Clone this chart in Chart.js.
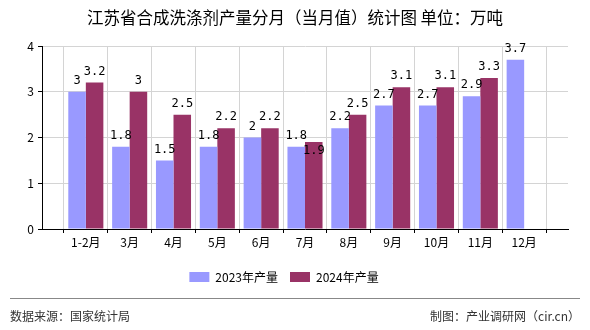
<!DOCTYPE html>
<html>
<head>
<meta charset="utf-8">
<script src="https://cdn.jsdelivr.net/npm/chart.js@4/dist/chart.umd.min.js"></script>
<style>
  html, body { margin: 0; padding: 0; background: #fff; }
  #wrap { width: 590px; height: 330px; position: relative; }
</style>
</head>
<body>
<div id="wrap"><canvas id="chart"></canvas></div>
<script>
const months = ["1-2月", "3月", "4月", "5月", "6月", "7月", "8月", "9月", "10月", "11月", "12月"];
const output2023 = [3, 1.8, 1.5, 1.8, 2, 1.8, 2.2, 2.7, 2.7, 2.9, 3.7];
const output2024 = [3.2, 3, 2.5, 2.2, 2.2, 1.9, 2.5, 3.1, 3.1, 3.3, null];
const yTicks = [0, 1, 2, 3, 4];

const cnFont = '"Noto Sans CJK SC", "DejaVu Sans", sans-serif';

// пустые места по краям оси, как в оригинале
const axisLabels = ["", ...months, ""];
const pad = arr => [null, ...arr, null];

// подписи значений над столбиками
const valueLabels = {
  id: "valueLabels",
  afterDatasetsDraw(chart) {
    const ctx = chart.ctx;
    ctx.save();
    ctx.font = '12px "DejaVu Sans Mono", monospace';
    ctx.fillStyle = "#000";
    ctx.textAlign = "center";
    ctx.textBaseline = "bottom";
    chart.data.datasets.forEach((ds, di) => {
      const meta = chart.getDatasetMeta(di);
      meta.data.forEach((bar, i) => {
        const v = ds.data[i];
        if (v === null || v === undefined) return;
        let y = bar.y - 5;
        // если соседняя подпись мешает — пишем внутри столбика
        if (di === 1) {
          const other = chart.data.datasets[0].data[i];
          if (other !== null && Math.abs(v - other) < 0.15) y = bar.y + 15;
        }
        ctx.fillText(String(v), bar.x, y);
      });
    });
    ctx.restore();
  }
};

// заголовок, линия и подписи внизу
const decor = {
  id: "decor",
  afterDraw(chart) {
    const ctx = chart.ctx;
    ctx.save();
    ctx.font = "16.5px " + cnFont;
    ctx.fillStyle = "#000";
    ctx.textAlign = "center";
    ctx.textBaseline = "middle";
    ctx.fillText("江苏省合成洗涤剂产量分月（当月值）统计图 单位：万吨", 295, 18);

    ctx.strokeStyle = "#888";
    ctx.lineWidth = 1;
    ctx.beginPath();
    ctx.moveTo(10, 298.5);
    ctx.lineTo(580, 298.5);
    ctx.stroke();
    ctx.font = "12px " + cnFont;
    ctx.fillStyle = "#333";
    ctx.textAlign = "left";
    ctx.fillText("数据来源：国家统计局", 10, 316);
    ctx.textAlign = "right";
    ctx.fillText("制图：产业调研网（cir.cn）", 580, 316);
    ctx.restore();
  }
};

new Chart(document.getElementById("chart"), {
  type: "bar",
  data: {
    labels: axisLabels,
    datasets: [
      { label: "2023年产量", data: pad(output2023), backgroundColor: "#9999FF" },
      { label: "2024年产量", data: pad(output2024), backgroundColor: "#993366" }
    ]
  },
  options: {
    responsive: true,
    maintainAspectRatio: false,
    animation: false,
    layout: { padding: { left: 0, right: 22, top: 46, bottom: 37 } },
    datasets: { bar: { barPercentage: 1, categoryPercentage: 0.8 } },
    plugins: {
      title: { display: false },
      legend: {
        position: "bottom",
        labels: {
          boxWidth: 20,
          boxHeight: 10,
          padding: 12,
          color: "#000",
          font: { family: cnFont, size: 12 }
        }
      },
      tooltip: { enabled: false }
    },
    scales: {
      x: {
        offset: false,
        grid: { color: "#d4d4d4", tickColor: "#000", tickLength: 4 },
        border: { color: "#000" },
        ticks: { color: "#000", padding: 2, autoSkip: false, maxRotation: 0, font: { family: cnFont, size: 12 } },
        afterFit(scale) { scale.height = 30; }
      },
      y: {
        min: yTicks[0],
        max: yTicks[yTicks.length - 1],
        afterBuildTicks(scale) { scale.ticks = yTicks.map(v => ({ value: v })); },
        grid: { color: "#d4d4d4", tickColor: "#000", tickLength: 4 },
        border: { color: "#000" },
        ticks: { color: "#000", padding: 4, font: { family: cnFont, size: 12 } },
        afterFit(scale) { scale.width = 42; }
      }
    }
  },
  plugins: [valueLabels, decor]
});
</script>
</body>
</html>
